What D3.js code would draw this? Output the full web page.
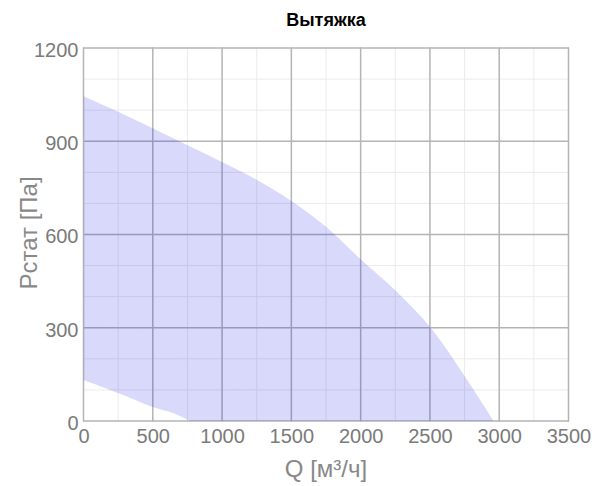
<!DOCTYPE html>
<html>
<head>
<meta charset="utf-8">
<script src="https://d3js.org/d3.v7.min.js"></script>
<style>
  body { margin: 0; background: #fff; }
  svg { font-family: "Liberation Sans", Arial, sans-serif; }
  .title { font-size: 18px; font-weight: bold; fill: #000; }
  .tick text { font-size: 20px; fill: #7a7a7a; }
  .axis-title { font-size: 24px; fill: #888; }
  .grid-minor { stroke: #ebebeb; stroke-width: 1; }
  .grid-major { stroke: #b4b4b4; stroke-width: 1.5; }
  .band { fill: #0000e6; fill-opacity: 0.15; stroke: none; }
</style>
</head>
<body>
<div id="chart"></div>
<script>
// ---- data ----
var xTicks = [0, 500, 1000, 1500, 2000, 2500, 3000, 3500];
var yTicks = [0, 300, 600, 900, 1200];
var xMinor = [250, 750, 1250, 1750, 2250, 2750, 3250];
var yMinor = [100, 200, 400, 500, 700, 800, 1000, 1100];

// upper limit of the working range
var upperQ = [0, 250, 500, 750, 1000, 1250, 1500, 1750, 2000, 2250, 2500, 2750, 2960];
var upperP = [1045, 995, 942, 887, 833, 776, 708, 625, 520, 420, 303, 145, 0];
// intermediate curves
var midQ = [0, 250, 500, 750, 1000, 1250, 1500, 1750, 2000, 2250];
var midP = [715, 655, 597, 540, 464, 389, 305, 210, 110, 0];
var lowQ = [0, 250, 500, 750, 1000, 1250, 1520];
var lowP = [358, 308, 258, 196, 142, 78, 0];
// lower limit
var bottomQ = [0, 250, 500, 650, 770];
var bottomP = [132, 90, 45, 25, 0];

var width = 597, height = 486;
var mLeft = 83.5, mRight = 568.5, mTop = 48, mBottom = 421;

var svg = d3.select("#chart").append("svg")
  .attr("width", width)
  .attr("height", height);

var x = d3.scaleLinear().domain([0, 3500]).range([mLeft, mRight]);
var y = d3.scaleLinear().domain([0, 1200]).range([mBottom, mTop]);

// grid
var grid = svg.append("g");
grid.selectAll(".vmin").data(xMinor).enter().append("line")
  .attr("class", "grid-minor")
  .attr("x1", d => x(d)).attr("x2", d => x(d))
  .attr("y1", mTop).attr("y2", mBottom);
grid.selectAll(".hmin").data(yMinor).enter().append("line")
  .attr("class", "grid-minor")
  .attr("x1", mLeft).attr("x2", mRight)
  .attr("y1", d => y(d)).attr("y2", d => y(d));
grid.selectAll(".vmaj").data(xTicks).enter().append("line")
  .attr("class", "grid-major")
  .attr("x1", d => x(d)).attr("x2", d => x(d))
  .attr("y1", mTop - 0.75).attr("y2", mBottom + 0.75);
grid.selectAll(".hmaj").data(yTicks).enter().append("line")
  .attr("class", "grid-major")
  .attr("x1", mLeft).attr("x2", mRight)
  .attr("y1", d => y(d)).attr("y2", d => y(d));

// bands
function pts(qs, ps) { return qs.map((q, i) => [x(q), y(ps[i])]); }
var curve = d3.line().curve(d3.curveCatmullRom.alpha(0.5));

function band(topQ, topP, botQ, botP) {
  var a = pts(topQ, topP);
  var b = pts(botQ, botP).reverse();
  return curve(a) + "L" + x(topQ[topQ.length - 1]) + "," + y(0) +
    curve(b).replace(/^M/, "L") + "Z";
}

svg.append("clipPath").attr("id", "clip").append("rect")
  .attr("x", mLeft).attr("y", mTop)
  .attr("width", mRight - mLeft).attr("height", mBottom - mTop);

var bands = svg.append("g").attr("clip-path", "url(#clip)");
bands.append("path").attr("class", "band").attr("d", band(upperQ, upperP, midQ, midP));
bands.append("path").attr("class", "band").attr("d", band(midQ, midP, lowQ, lowP));
bands.append("path").attr("class", "band").attr("d", band(lowQ, lowP, bottomQ, bottomP));

// axes
var xAxis = svg.append("g")
  .attr("transform", "translate(0," + mBottom + ")")
  .call(d3.axisBottom(x).tickValues(xTicks).tickFormat(d3.format("d")).tickSize(0).tickPadding(8));
xAxis.select(".domain").remove();

var yAxis = svg.append("g")
  .attr("transform", "translate(" + mLeft + ",0)")
  .call(d3.axisLeft(y).tickValues(yTicks).tickFormat(d3.format("d")).tickSize(0).tickPadding(5));
yAxis.select(".domain").remove();
yAxis.selectAll("text").attr("dy", "0.42em");

// titles
svg.append("text")
  .attr("class", "title")
  .attr("x", (mLeft + mRight) / 2)
  .attr("y", 26)
  .attr("text-anchor", "middle")
  .text("Вытяжка");

svg.append("text")
  .attr("class", "axis-title")
  .attr("x", (mLeft + mRight) / 2)
  .attr("y", 477)
  .attr("text-anchor", "middle")
  .text("Q [м³/ч]");

svg.append("text")
  .attr("class", "axis-title")
  .attr("transform", "translate(37," + 233 + ") rotate(-90)")
  .attr("text-anchor", "middle")
  .text("Рстат [Па]");
</script>
</body>
</html>
